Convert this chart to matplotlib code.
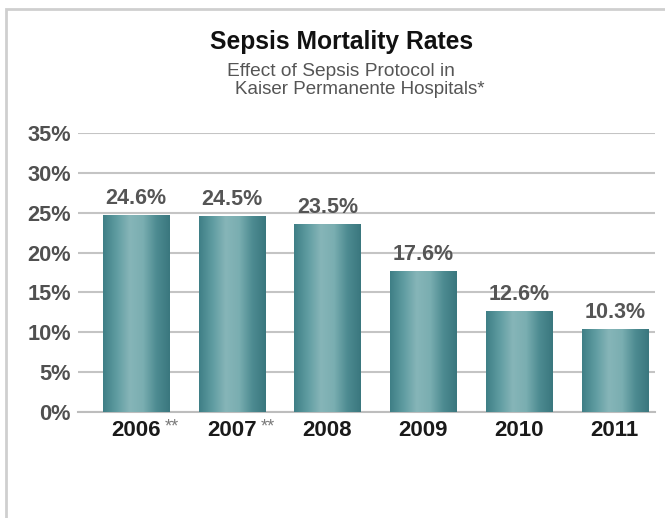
import numpy as np
import matplotlib
matplotlib.use("Agg")
import matplotlib.pyplot as plt
from matplotlib.colors import LinearSegmentedColormap
from matplotlib.patches import Rectangle

years = ["2006", "2007", "2008", "2009", "2010", "2011"]
rates = [24.6, 24.5, 23.5, 17.6, 12.6, 10.3]
footnote = ["**", "**", "", "", "", ""]
yticks = [0, 5, 10, 15, 20, 25, 30, 35]

font = ["Liberation Sans", "DejaVu Sans"]

fig = plt.figure(figsize=(6.65, 5.18), dpi=100)
fig.patch.set_facecolor("white")

# light grey frame around the slide
fig.patches.append(Rectangle((6 / 665, -0.2), 1.2, (518 - 9) / 518 + 0.2,
                             transform=fig.transFigure, fill=False,
                             edgecolor="#cfcfcf", lw=2))

ax = fig.add_axes([78 / 665, (518 - 412) / 518, (655 - 78) / 665, (412 - 133) / 518])
x = np.arange(len(years))

bars = ax.bar(x, rates, width=0.69, color="#4f8e94", zorder=2)

# cylinder-like shading on every bar
shade = LinearSegmentedColormap.from_list(
    "teal", ["#3f7f86", "#5f9ca1", "#86b5b8", "#7aaeb1", "#4d8b91", "#3a777e"])
grad = np.linspace(0, 1, 200).reshape(1, -1)
for b in bars:
    ax.imshow(grad, cmap=shade, aspect="auto", zorder=3,
              extent=[b.get_x(), b.get_x() + b.get_width(), 0, b.get_height()])

for i, v in enumerate(rates):
    ax.annotate(f"{v}%", (x[i], v), xytext=(0, 5), textcoords="offset points",
                ha="center", va="bottom", fontsize=15.5, fontweight="bold",
                color="#555555", family=font)
    if footnote[i]:
        ax.annotate(footnote[i], (x[i], 0), xycoords=ax.get_xaxis_transform(),
                    xytext=(21, -11), textcoords="offset points",
                    ha="left", va="center", fontsize=13, color="#7a7a7a",
                    family=font)

ax.set_xlim(-0.605, 5.42)
ax.set_ylim(0, 35)
ax.set_yticks(yticks)
ax.set_yticklabels([f"{t}%" for t in yticks], fontsize=15.7, fontweight="bold",
                   color="#505050", family=font)
ax.set_xticks(x)
ax.set_xticklabels(years, fontsize=16, fontweight="bold", color="#1a1a1a",
                   family=font)
ax.tick_params(axis="both", length=0)
ax.tick_params(axis="y", pad=5)
ax.tick_params(axis="x", pad=6)

ax.grid(axis="y", color="#c4c4c4", lw=1.5, zorder=0)
ax.set_axisbelow(True)
for s in ["top", "right", "left"]:
    ax.spines[s].set_visible(False)
ax.spines["bottom"].set_color("#bdbdbd")
ax.spines["bottom"].set_linewidth(1.5)

fig.text(342 / 665, 1 - 42 / 518, "Sepsis Mortality Rates", ha="center", va="center",
         fontsize=17.7, fontweight="bold", color="#111111", family=font)
fig.text(227 / 665, 1 - 72 / 518, "Effect of Sepsis Protocol in", ha="left",
         va="center", fontsize=13.8, color="#555555", family=font)
fig.text(235 / 665, 1 - 90 / 518, "Kaiser Permanente Hospitals*", ha="left",
         va="center", fontsize=13.5, color="#555555", family=font)

fig.savefig("out.png", dpi=100)
